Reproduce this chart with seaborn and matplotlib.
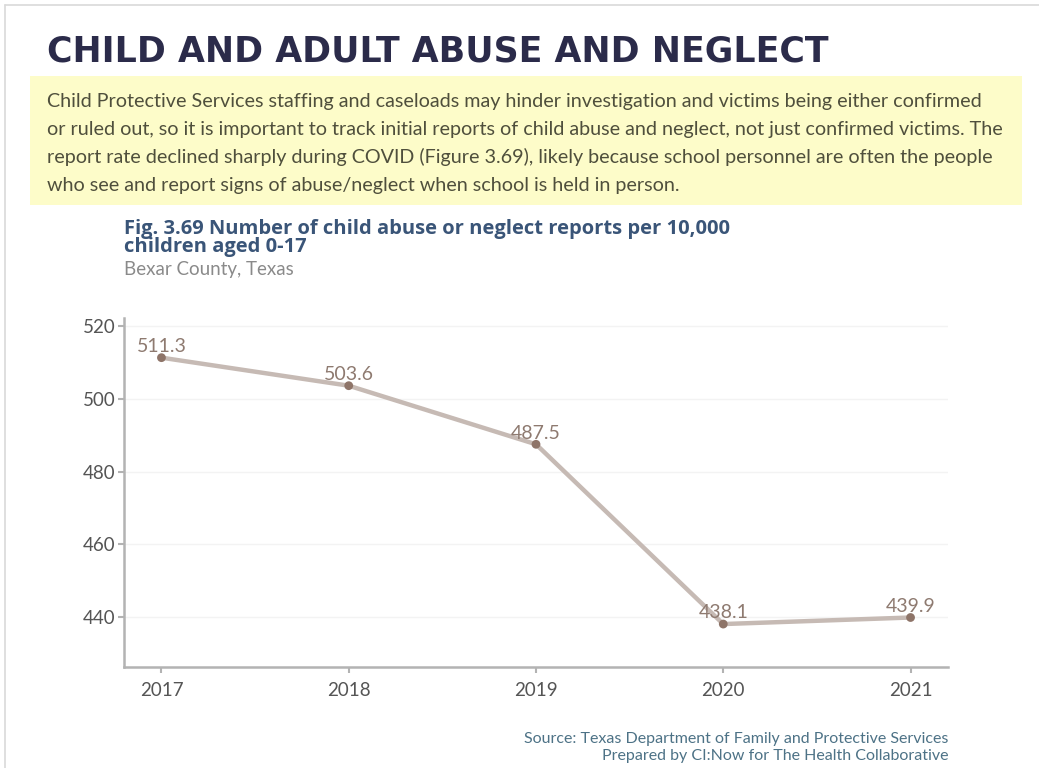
import matplotlib
matplotlib.use("Agg")
import matplotlib.pyplot as plt
import seaborn as sns
import pandas as pd
from matplotlib.patches import Rectangle

# data
years = [2017, 2018, 2019, 2020, 2021]
reports = [511.3, 503.6, 487.5, 438.1, 439.9]
labels = ["511.3", "503.6", "487.5", "438.1", "439.9"]
yticks = [440, 460, 480, 500, 520]

title = "CHILD AND ADULT ABUSE AND NEGLECT"
intro = ("Child Protective Services staffing and caseloads may hinder investigation and victims being either confirmed\n"
         "or ruled out, so it is important to track initial reports of child abuse and neglect, not just confirmed victims. The\n"
         "report rate declined sharply during COVID (Figure 3.69), likely because school personnel are often the people\n"
         "who see and report signs of abuse/neglect when school is held in person.")
fig_title = "Fig. 3.69 Number of child abuse or neglect reports per 10,000\nchildren aged 0-17"
fig_sub = "Bexar County, Texas"
source = "Source: Texas Department of Family and Protective Services\nPrepared by CI:Now for The Health Collaborative"

df = pd.DataFrame({"year": years, "reports": reports})

sns.set_theme(style="white")
plt.rcParams['font.family'] = ['Lato', 'DejaVu Sans']

W, H = 1039, 768
fig = plt.figure(figsize=(W / 100, H / 100), dpi=100)
fig.patch.set_facecolor("white")

# page border (top and left)
fig.add_artist(plt.Line2D([5 / W, 5 / W], [0, 1 - 5 / H], transform=fig.transFigure, color="#d9d9d9", lw=1.2))
fig.add_artist(plt.Line2D([5 / W, 1], [1 - 5 / H, 1 - 5 / H], transform=fig.transFigure, color="#d9d9d9", lw=1.2))

fig.text(47 / W, 1 - 52 / H, title, fontsize=25, fontweight="heavy", color="#2b2b4a",
         va="center", ha="left", family="DejaVu Sans")

# yellow intro box
fig.add_artist(Rectangle((30 / W, 1 - 205 / H), (1022 - 30) / W, (205 - 76) / H,
                         transform=fig.transFigure, facecolor="#fdfcc9", edgecolor="none", zorder=0))
fig.text(47 / W, 1 - 143.5 / H, intro, fontsize=14.2, color="#4f4f3c", va="center", ha="left",
         linespacing=1.72)

fig.text(124 / W, 1 - 238 / H, fig_title, fontsize=14.5, fontweight="bold", color="#3a5578",
         va="center", ha="left", linespacing=0.9, family="Open Sans")
fig.text(124 / W, 1 - 270 / H, fig_sub, fontsize=13.5, color="#8a8a8a", va="center", ha="left")

ax = fig.add_axes([124 / W, 1 - 667 / H, (948 - 124) / W, (667 - 318) / H])
sns.lineplot(data=df, x="year", y="reports", ax=ax, color="#c6bab4", lw=3.2, zorder=2)
sns.scatterplot(data=df, x="year", y="reports", ax=ax, color="#8e7468", s=40, edgecolor="none", zorder=3)
for x, y, t in zip(years, reports, labels):
    ax.annotate(t, (x, y), xytext=(0, 2), textcoords="offset points", ha="center", va="bottom",
                fontsize=14, color="#8e7a70")

ax.set_xlim(2016.8, 2021.2)
ax.set_ylim(426.3, 522.2)
ax.set_xticks(years)
ax.set_xticklabels([str(y) for y in years])
ax.set_yticks(yticks)
ax.set_xlabel("")
ax.set_ylabel("")
ax.grid(axis="y", color="#f3f3f3", lw=1)
ax.set_axisbelow(True)
for s in ["top", "right"]:
    ax.spines[s].set_visible(False)
for s in ["left", "bottom"]:
    ax.spines[s].set_color("#b3b3b3")
    ax.spines[s].set_linewidth(1.8)
ax.tick_params(axis="both", colors="#b3b3b3", labelcolor="#555555", labelsize=13.5, length=4, width=1.5,
               direction="out", bottom=True, left=True)
ax.tick_params(axis="x", pad=7)
ax.tick_params(axis="y", pad=2)

fig.text(948 / W, 1 - 747.5 / H, source, fontsize=11.5, color="#4d7286", va="center", ha="right",
         linespacing=1.3, multialignment="right")

fig.savefig("out.png", dpi=100)
